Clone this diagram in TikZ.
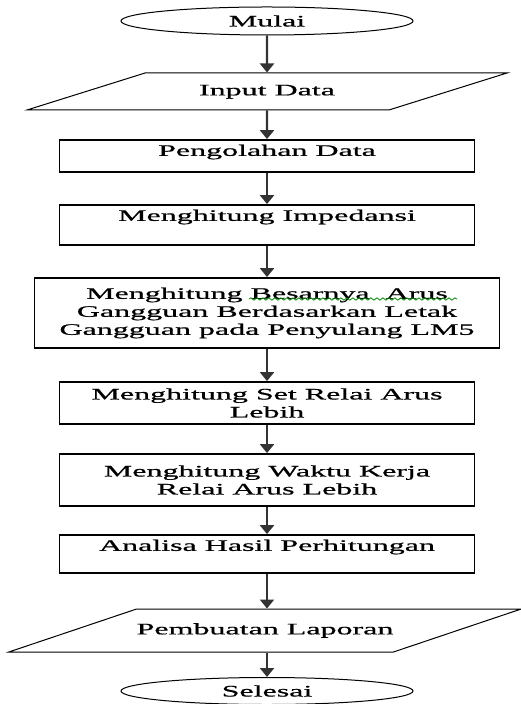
\documentclass[tikz,border=0pt]{standalone}
\usepackage{fontspec}
\setmainfont[FakeStretch=2, FakeBold=0.8]{Liberation Serif}
\usetikzlibrary{shapes.geometric,arrows.meta,decorations.pathmorphing}

\begin{document}
\begin{tikzpicture}[x=0.5pt, y=-0.5pt,
        every node/.style={font=\fontsize{8}{9}\selectfont, align=center},
        terminal/.style={draw, ellipse, line width=0.5pt, inner sep=0pt, minimum width=146pt},
        io/.style={draw, trapezium, trapezium stretches body, line width=0.5pt, inner xsep=0pt, inner ysep=#1, text height=5.6pt, text depth=1.75pt},
        proses/.style={draw, line width=0.9pt, inner sep=0pt, minimum width=207.5pt},
        naik/.style={text height=5.6pt, text depth=#1},
        panah/.style={-{Triangle[width=7pt, length=4.5pt]}, line width=1.2pt, black!80}]
        \useasboundingbox (0, 0) rectangle (520, 704);
        \node[terminal, minimum height=14pt] (mulai) at (267, 21) {Mulai};
        \node[io=5.575pt, minimum width=240pt, trapezium left angle=17.4, trapezium right angle=162.6] (input-data) at (267, 91.5) {Input Data};
        \node[proses, minimum height=16pt, naik=5.75pt] (pengolahan-data) at (267, 156) {Pengolahan Data};
        \node[proses, minimum height=20pt, naik=9.75pt] (impedansi) at (267, 225) {Menghitung Impedansi};
        \node[proses, minimum width=232.5pt, minimum height=35pt] (besar-arus) at (267, 313) {Menghitung Besarnya\ \ Arus\\Gangguan Berdasarkan Letak\\Gangguan pada Penyulang LM5};
        \node[proses, minimum height=21pt] (set-relai) at (267, 403) {Menghitung Set Relai Arus\\Lebih};
        \node[proses, minimum height=26pt] (waktu-kerja) at (267, 480) {Menghitung Waktu Kerja\\Relai Arus Lebih};
        \node[proses, minimum height=19pt, naik=8.75pt] (analisa) at (267, 554) {Analisa Hasil Perhitungan};
        \node[io=7.075pt, minimum width=255.5pt, trapezium left angle=18.6, trapezium right angle=161.4] (laporan) at (265, 630.5) {Pembuatan Laporan};
        \node[terminal, minimum height=13.5pt] (selesai) at (267, 691) {Selesai};
        \draw[green!55!black, line width=0.4pt, decorate, decoration={snake, amplitude=0.6pt, segment length=3pt}] (249, 299) -- (457, 299);
        \draw[panah] (mulai) -- (input-data);
        \draw[panah] (input-data) -- (pengolahan-data);
        \draw[panah] (pengolahan-data) -- (impedansi);
        \draw[panah] (impedansi) -- (besar-arus);
        \draw[panah] (besar-arus) -- (set-relai);
        \draw[panah] (set-relai) -- (waktu-kerja);
        \draw[panah] (waktu-kerja) -- (analisa);
        \draw[panah] (analisa) -- (analisa |- laporan.north);
        \draw[panah] (laporan.south -| selesai) -- (selesai);
    \end{tikzpicture}
\end{document}
